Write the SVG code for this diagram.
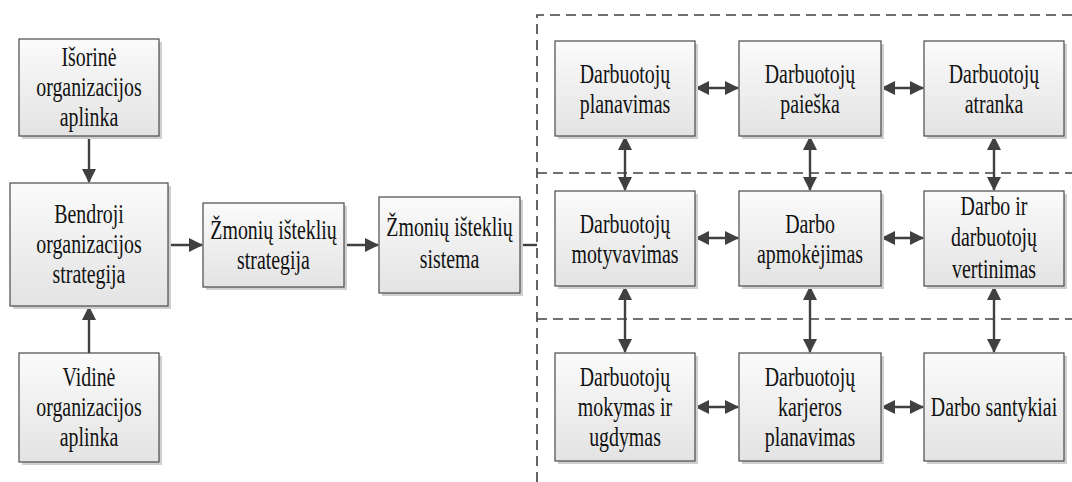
<svg xmlns="http://www.w3.org/2000/svg" width="1072" height="482" viewBox="0 0 1072 482">
<defs>
<linearGradient id="g" x1="0" y1="0" x2="0" y2="1">
<stop offset="0" stop-color="#fbfbfb"/>
<stop offset="1" stop-color="#e3e3e3"/>
</linearGradient>
<marker id="ah" viewBox="0 0 14 14" refX="13" refY="7" markerWidth="14" markerHeight="14" markerUnits="userSpaceOnUse" orient="auto-start-reverse">
<path d="M0,0 L14,7 L0,14 z" fill="#404040"/>
</marker>
<style>
.sh{fill:#cfcfcf}
.bx{fill:url(#g);stroke:#4a4a4a;stroke-width:1.2}
text{font-family:'Liberation Serif','Times New Roman','DejaVu Serif',serif;font-size:28px;fill:#111;text-anchor:middle}
.c{stroke:#404040;stroke-width:2.4;fill:none}
.d{stroke:#404040;stroke-width:1.6;fill:none;stroke-dasharray:10 6}
</style>
</defs>
<rect width="1072" height="482" fill="#fff"/>

<g id="dashed">
<path class="d" d="M537,482 V15 H1072"/>
<path class="d" d="M537,173 H1072"/>
<path class="d" d="M537,319 H1072"/>
</g>

<g id="connectors">
<line class="c" x1="89" y1="136" x2="89" y2="182" marker-end="url(#ah)"/>
<line class="c" x1="89" y1="353" x2="89" y2="307" marker-end="url(#ah)"/>
<line class="c" x1="168" y1="245" x2="202" y2="245" marker-end="url(#ah)"/>
<line class="c" x1="344" y1="245" x2="378" y2="245" marker-end="url(#ah)"/>
<line class="c" x1="520" y1="245" x2="537" y2="245"/>
<line class="c" x1="696" y1="88" x2="738" y2="88" marker-start="url(#ah)" marker-end="url(#ah)"/>
<line class="c" x1="882" y1="88" x2="923" y2="88" marker-start="url(#ah)" marker-end="url(#ah)"/>
<line class="c" x1="696" y1="238" x2="738" y2="238" marker-start="url(#ah)" marker-end="url(#ah)"/>
<line class="c" x1="882" y1="238" x2="923" y2="238" marker-start="url(#ah)" marker-end="url(#ah)"/>
<line class="c" x1="696" y1="407" x2="738" y2="407" marker-start="url(#ah)" marker-end="url(#ah)"/>
<line class="c" x1="882" y1="407" x2="923" y2="407" marker-start="url(#ah)" marker-end="url(#ah)"/>
<line class="c" x1="625" y1="137" x2="625" y2="190" marker-start="url(#ah)" marker-end="url(#ah)"/>
<line class="c" x1="810" y1="137" x2="810" y2="190" marker-start="url(#ah)" marker-end="url(#ah)"/>
<line class="c" x1="994" y1="137" x2="994" y2="190" marker-start="url(#ah)" marker-end="url(#ah)"/>
<line class="c" x1="625" y1="287" x2="625" y2="352" marker-start="url(#ah)" marker-end="url(#ah)"/>
<line class="c" x1="810" y1="287" x2="810" y2="352" marker-start="url(#ah)" marker-end="url(#ah)"/>
<line class="c" x1="994" y1="287" x2="994" y2="352" marker-start="url(#ah)" marker-end="url(#ah)"/>
</g>

<g id="n-isorine">
<rect class="sh" x="22" y="42" width="140" height="97"/>
<rect class="bx" x="19" y="39" width="140" height="97"/>
<text font-family="Liberation Serif, serif" transform="translate(89,0) scale(0.71,1)"><tspan x="0" y="66">Išorinė</tspan><tspan x="0" y="96">organizacijos</tspan><tspan x="0" y="126">aplinka</tspan></text>
</g>

<g id="n-bendroji">
<rect class="sh" x="13" y="186" width="158" height="123"/>
<rect class="bx" x="10" y="183" width="158" height="123"/>
<text transform="translate(89,0) scale(0.71,1)"><tspan x="0" y="223">Bendroji</tspan><tspan x="0" y="253">organizacijos</tspan><tspan x="0" y="283">strategija</tspan></text>
</g>

<g id="n-vidine">
<rect class="sh" x="22" y="356" width="140" height="109"/>
<rect class="bx" x="19" y="353" width="140" height="109"/>
<text transform="translate(89,0) scale(0.71,1)"><tspan x="0" y="386">Vidinė</tspan><tspan x="0" y="416">organizacijos</tspan><tspan x="0" y="446">aplinka</tspan></text>
</g>

<g id="n-zis-strategija">
<rect class="sh" x="206" y="206" width="141" height="84"/>
<rect class="bx" x="203" y="203" width="141" height="84"/>
<text transform="translate(273.5,0) scale(0.71,1)"><tspan x="0" y="239">Žmonių išteklių</tspan><tspan x="0" y="269">strategija</tspan></text>
</g>

<g id="n-zis-sistema">
<rect class="sh" x="382" y="200" width="141" height="96"/>
<rect class="bx" x="379" y="197" width="141" height="96"/>
<text transform="translate(449.5,0) scale(0.71,1)"><tspan x="0" y="236">Žmonių išteklių</tspan><tspan x="0" y="268">sistema</tspan></text>
</g>

<g id="n-planavimas">
<rect class="sh" x="558" y="44" width="140" height="95"/>
<rect class="bx" x="555" y="41" width="140" height="95"/>
<text transform="translate(625,0) scale(0.71,1)"><tspan x="0" y="83">Darbuotojų</tspan><tspan x="0" y="113">planavimas</tspan></text>
</g>

<g id="n-paieska">
<rect class="sh" x="742" y="44" width="142" height="95"/>
<rect class="bx" x="739" y="41" width="142" height="95"/>
<text transform="translate(810,0) scale(0.71,1)"><tspan x="0" y="83">Darbuotojų</tspan><tspan x="0" y="113">paieška</tspan></text>
</g>

<g id="n-atranka">
<rect class="sh" x="927" y="44" width="140" height="95"/>
<rect class="bx" x="924" y="41" width="140" height="95"/>
<text transform="translate(994,0) scale(0.71,1)"><tspan x="0" y="83">Darbuotojų</tspan><tspan x="0" y="113">atranka</tspan></text>
</g>

<g id="n-motyvavimas">
<rect class="sh" x="558" y="194" width="140" height="95"/>
<rect class="bx" x="555" y="191" width="140" height="95"/>
<text transform="translate(625,0) scale(0.71,1)"><tspan x="0" y="233">Darbuotojų</tspan><tspan x="0" y="263">motyvavimas</tspan></text>
</g>

<g id="n-apmokejimas">
<rect class="sh" x="742" y="194" width="142" height="95"/>
<rect class="bx" x="739" y="191" width="142" height="95"/>
<text transform="translate(810,0) scale(0.71,1)"><tspan x="0" y="233">Darbo</tspan><tspan x="0" y="263">apmokėjimas</tspan></text>
</g>

<g id="n-vertinimas">
<rect class="sh" x="927" y="194" width="140" height="95"/>
<rect class="bx" x="924" y="191" width="140" height="95"/>
<text transform="translate(994,0) scale(0.71,1)"><tspan x="0" y="215">Darbo ir</tspan><tspan x="0" y="246">darbuotojų</tspan><tspan x="0" y="278">vertinimas</tspan></text>
</g>

<g id="n-mokymas">
<rect class="sh" x="558" y="356" width="140" height="108"/>
<rect class="bx" x="555" y="353" width="140" height="108"/>
<text transform="translate(625,0) scale(0.71,1)"><tspan x="0" y="386">Darbuotojų</tspan><tspan x="0" y="416">mokymas ir</tspan><tspan x="0" y="446">ugdymas</tspan></text>
</g>

<g id="n-karjeros">
<rect class="sh" x="742" y="356" width="142" height="108"/>
<rect class="bx" x="739" y="353" width="142" height="108"/>
<text transform="translate(810,0) scale(0.71,1)"><tspan x="0" y="386">Darbuotojų</tspan><tspan x="0" y="416">karjeros</tspan><tspan x="0" y="446">planavimas</tspan></text>
</g>

<g id="n-santykiai">
<rect class="sh" x="927" y="356" width="140" height="108"/>
<rect class="bx" x="924" y="353" width="140" height="108"/>
<text transform="translate(994,0) scale(0.71,1)"><tspan x="0" y="416">Darbo santykiai</tspan></text>
</g>
</svg>
